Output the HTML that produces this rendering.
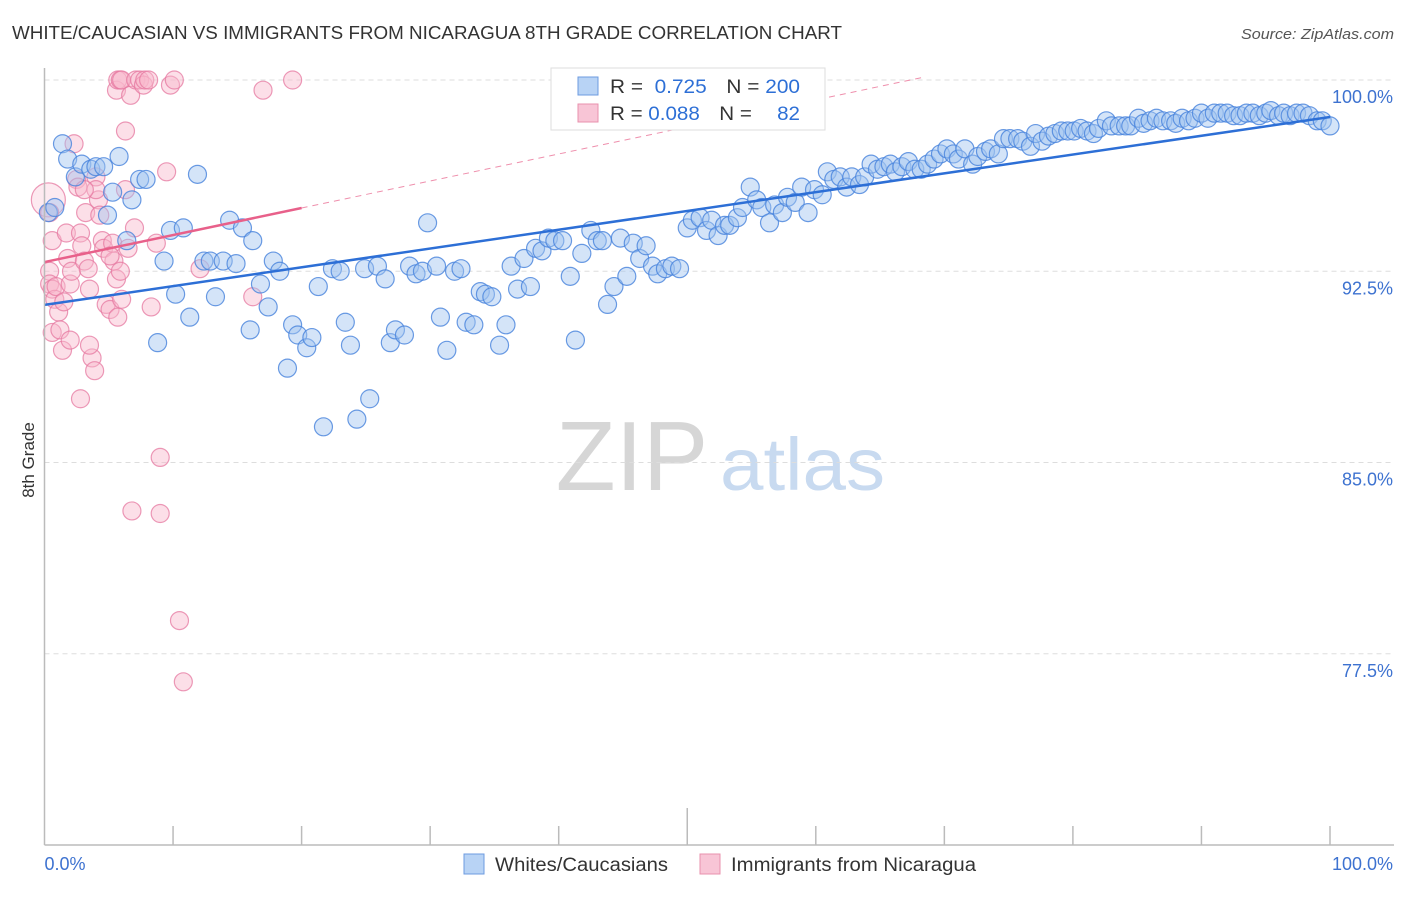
<!DOCTYPE html>
<html><head><meta charset="utf-8"><style>
body{margin:0;background:#fff;font-family:"Liberation Sans",sans-serif}
svg text{font-family:"Liberation Sans",sans-serif}
</style></head><body>
<svg id="c" width="1406" height="892" xmlns="http://www.w3.org/2000/svg">
<text x="12" y="39" font-size="18" fill="#333" textLength="830" lengthAdjust="spacingAndGlyphs">WHITE/CAUCASIAN VS IMMIGRANTS FROM NICARAGUA 8TH GRADE CORRELATION CHART</text>
<text x="1241" y="39" font-size="15" fill="#555" font-style="italic" textLength="153" lengthAdjust="spacingAndGlyphs">Source: ZipAtlas.com</text>
<text x="34" y="460" font-size="17" fill="#333" text-anchor="middle" transform="rotate(-90 34 460)">8th Grade</text>
<g>
<text x="632" y="490" font-size="98" fill="#d6d6d6" font-family="Liberation Serif" text-anchor="middle">ZIP</text>
<text x="720" y="490" font-size="74" fill="#c8daf0" textLength="165" lengthAdjust="spacingAndGlyphs">atlas</text>
</g>
<g id="grid"></g><g id="pts"></g><g id="trend"></g><g id="axes"></g>
<g>
<rect x="551" y="68" width="274" height="62" fill="#fff" stroke="#ddd"/>
<rect x="578" y="77" width="20" height="18" fill="#b8d3f5" stroke="#6d9be0"/>
<rect x="578" y="104" width="20" height="18" fill="#f8c5d6" stroke="#e891ad"/>
<text x="610" y="93" font-size="19" fill="#333" textLength="190" lengthAdjust="spacingAndGlyphs">R = <tspan fill="#2d6fd6">&#160;0.725</tspan><tspan dx="18">N = </tspan><tspan fill="#2d6fd6">200</tspan></text>
<text x="610" y="120" font-size="19" fill="#333" textLength="190" lengthAdjust="spacingAndGlyphs">R = <tspan fill="#2d6fd6">0.088</tspan><tspan dx="18">N = </tspan><tspan fill="#2d6fd6" dx="18">82</tspan></text>
</g>
<g>
<rect x="464" y="854" width="20" height="20" fill="#b8d3f5" stroke="#6d9be0"/>
<text x="495" y="871" font-size="19" fill="#333" textLength="173" lengthAdjust="spacingAndGlyphs">Whites/Caucasians</text>
<rect x="700" y="854" width="20" height="20" fill="#f8c5d6" stroke="#e891ad"/>
<text x="731" y="871" font-size="19" fill="#333" textLength="245" lengthAdjust="spacingAndGlyphs">Immigrants from Nicaragua</text>
</g>
</svg>
<script>
const yTicks=[100,92.5,85,77.5];
const yTickLabels=["100.0%","92.5%","85.0%","77.5%"];
const xTickLabels=["0.0%","100.0%"];
const blueX=[0.3,0.8,1.4,1.8,2.4,2.9,3.6,4.0,4.6,4.9,5.3,5.8,6.4,6.8,7.4,7.9,8.8,9.3,9.8,10.2,10.8,11.3,11.9,12.4,12.9,13.3,13.9,14.4,14.9,15.4,16.0,16.2,16.8,17.4,17.8,18.3,18.9,19.3,19.7,20.4,20.8,21.3,21.7,22.4,23.0,23.4,23.8,24.3,24.9,25.3,25.9,26.5,26.9,27.3,28.0,28.4,28.9,29.4,29.8,30.5,30.8,31.3,31.9,32.4,32.8,33.4,33.9,34.3,34.8,35.4,35.9,36.3,36.8,37.3,37.8,38.2,38.7,39.2,39.7,40.3,40.9,41.3,41.8,42.5,43.0,43.4,43.8,44.3,44.8,45.3,45.8,46.3,46.8,47.3,47.7,48.3,48.8,49.4,50.0,50.4,51.0,51.5,51.9,52.4,52.9,53.3,53.9,54.3,54.9,55.4,55.8,56.4,56.8,57.4,57.8,58.4,58.9,59.4,59.9,60.5,60.9,61.4,61.9,62.4,62.8,63.4,63.8,64.3,64.8,65.3,65.8,66.2,66.7,67.2,67.7,68.2,68.7,69.2,69.7,70.2,70.7,71.1,71.6,72.2,72.6,73.2,73.6,74.2,74.6,75.1,75.7,76.1,76.7,77.1,77.6,78.1,78.6,79.1,79.6,80.1,80.6,81.1,81.6,82.0,82.6,83.0,83.6,84.1,84.5,85.1,85.5,86.0,86.5,87.0,87.6,88.0,88.5,89.0,89.5,90.0,90.5,91.0,91.5,92.0,92.5,93.0,93.5,94.0,94.5,95.0,95.4,96.0,96.4,96.9,97.4,97.9,98.4,99.0,99.4,100];
const blueY=[94.8,95.0,97.5,96.9,96.2,96.7,96.5,96.6,96.6,94.7,95.6,97.0,93.7,95.3,96.1,96.1,89.7,92.9,94.1,91.6,94.2,90.7,96.3,92.9,92.9,91.5,92.9,94.5,92.8,94.2,90.2,93.7,92.0,91.1,92.9,92.5,88.7,90.4,90.0,89.5,89.9,91.9,86.4,92.6,92.5,90.5,89.6,86.7,92.6,87.5,92.7,92.2,89.7,90.2,90.0,92.7,92.4,92.5,94.4,92.7,90.7,89.4,92.5,92.6,90.5,90.4,91.7,91.6,91.5,89.6,90.4,92.7,91.8,93.0,91.9,93.4,93.3,93.8,93.7,93.7,92.3,89.8,93.2,94.1,93.7,93.7,91.2,91.9,93.8,92.3,93.6,93.0,93.5,92.7,92.4,92.6,92.7,92.6,94.2,94.5,94.6,94.1,94.5,93.9,94.3,94.3,94.6,95.0,95.8,95.3,95.0,94.4,95.1,94.8,95.4,95.2,95.8,94.8,95.7,95.5,96.4,96.1,96.2,95.8,96.2,95.9,96.2,96.7,96.5,96.6,96.7,96.4,96.6,96.8,96.5,96.5,96.7,96.9,97.1,97.3,97.1,96.9,97.3,96.7,97.0,97.2,97.3,97.1,97.7,97.7,97.7,97.6,97.4,97.9,97.6,97.8,97.9,98.0,98.0,98.0,98.1,98.0,97.9,98.1,98.4,98.2,98.2,98.2,98.2,98.5,98.3,98.4,98.5,98.4,98.4,98.3,98.5,98.4,98.5,98.7,98.5,98.7,98.7,98.7,98.6,98.6,98.7,98.7,98.6,98.7,98.8,98.6,98.7,98.6,98.7,98.7,98.6,98.4,98.4,98.2];
const pinkX=[0.3,0.4,0.6,0.4,0.4,0.6,0.6,0.8,0.9,1.1,1.2,1.4,1.5,1.7,1.8,2.0,2.1,2.3,2.5,2.6,2.8,2.9,3.1,3.2,3.4,3.5,3.7,3.9,4.0,4.2,4.3,4.5,4.6,4.8,5.1,5.3,5.4,5.6,5.7,5.9,6.0,5.6,5.7,5.9,6.0,6.3,6.3,6.5,6.7,6.8,7.0,7.1,7.4,7.7,7.8,8.1,8.3,8.7,9.0,9.0,9.5,9.8,10.1,10.5,10.8,12.1,16.2,17.0,19.3,2.8,3.5,2.0,4.0,5.1,3.1];
const pinkY=[95.3,94.8,93.7,92.5,92.0,91.8,90.1,91.4,91.9,90.9,90.2,89.4,91.3,94.0,93.0,92.0,92.5,97.5,96.1,95.8,94.0,93.5,92.9,94.8,92.6,91.8,89.1,88.6,96.2,95.3,94.7,93.7,93.4,91.2,91.0,93.6,92.9,92.2,90.7,92.5,91.4,99.6,100,100,100,98.0,95.7,93.4,99.4,83.1,94.2,100,100,99.8,100,100,91.1,93.6,85.2,83.0,96.4,99.8,100,78.8,76.4,92.6,91.5,99.6,100,87.5,89.6,89.8,95.7,93.1,95.7];
const blueTrend=[0,91.18,100,98.55];
const pinkTrend=[0,92.86,20,94.98];
const pinkDashEnd=[68.5];
const X0=44.5,X1=1330,YT=80,YB=845,YMIN=70,YMAX=100;
const sx=v=>X0+(X1-X0)*v/100, sy=v=>YB-(YB-YT)*(v-YMIN)/(YMAX-YMIN);
const NS="http://www.w3.org/2000/svg";
function mk(t,a,p){const e=document.createElementNS(NS,t);for(const k in a)e.setAttribute(k,a[k]);p.appendChild(e);return e;}
const grid=document.getElementById('grid'),pts=document.getElementById('pts'),tr=document.getElementById('trend'),ax=document.getElementById('axes');
yTicks.forEach((v,i)=>{
 const l=mk('line',{x1:X0,x2:1394,y1:sy(v),y2:sy(v),stroke:'#ddd','stroke-dasharray':'5,4'},grid);
 
 
 const t=mk('text',{x:1393,y:sy(v)+23,'font-size':18,fill:'#3d72d0','text-anchor':'end'},grid);
 t.textContent=yTickLabels[i];
 
 
});
pinkX.forEach((x,i)=>{
 const c=mk('circle',{cx:sx(x),cy:sy(pinkY[i]),r:i===0?17:9,fill:i===0?'rgba(248,185,205,0.3)':'rgba(248,185,205,0.45)',stroke:'rgba(230,120,160,0.75)','stroke-width':1.2},pts);
 
 
});
blueX.forEach((x,i)=>{
 const c=mk('circle',{cx:sx(x),cy:sy(blueY[i]),r:9,fill:'rgba(160,195,240,0.45)',stroke:'rgba(70,130,220,0.8)','stroke-width':1.2},pts);
 
 
});
const ps=(pinkTrend[3]-pinkTrend[1])/(pinkTrend[2]-pinkTrend[0]);
const pd=mk('line',{x1:sx(pinkTrend[2]),y1:sy(pinkTrend[3]),x2:sx(pinkDashEnd[0]),y2:sy(pinkTrend[1]+ps*pinkDashEnd[0]),stroke:'#e8608a','stroke-width':1,'stroke-dasharray':'6,5',opacity:0.7},tr);


const pl=mk('line',{x1:sx(pinkTrend[0]),y1:sy(pinkTrend[1]),x2:sx(pinkTrend[2]),y2:sy(pinkTrend[3]),stroke:'#e8608a','stroke-width':2.5},tr);


const bl=mk('line',{x1:sx(blueTrend[0]),y1:sy(blueTrend[1]),x2:sx(blueTrend[2]),y2:sy(blueTrend[3]),stroke:'#2d6fd6','stroke-width':2.5},tr);


const ya=mk('line',{x1:X0,x2:X0,y1:68,y2:YB,stroke:'#bbb','stroke-width':1.5},ax);


const xa=mk('line',{x1:X0,x2:1394,y1:YB,y2:YB,stroke:'#bbb','stroke-width':1.5},ax);


for(let i=1;i<=10;i++){
 const t=mk('line',{x1:sx(i*10),x2:sx(i*10),y1:i===5?808:826,y2:YB,stroke:'#bbb','stroke-width':1.5},ax);
 
 
}
[[0,'start',X0],[1,'end',1393]].forEach(([i,a,x])=>{
 const t=mk('text',{x:x,y:870,'font-size':18,fill:'#3d72d0','text-anchor':a},ax);
 t.textContent=xTickLabels[i];
 
 
});
</script>
</body></html>
